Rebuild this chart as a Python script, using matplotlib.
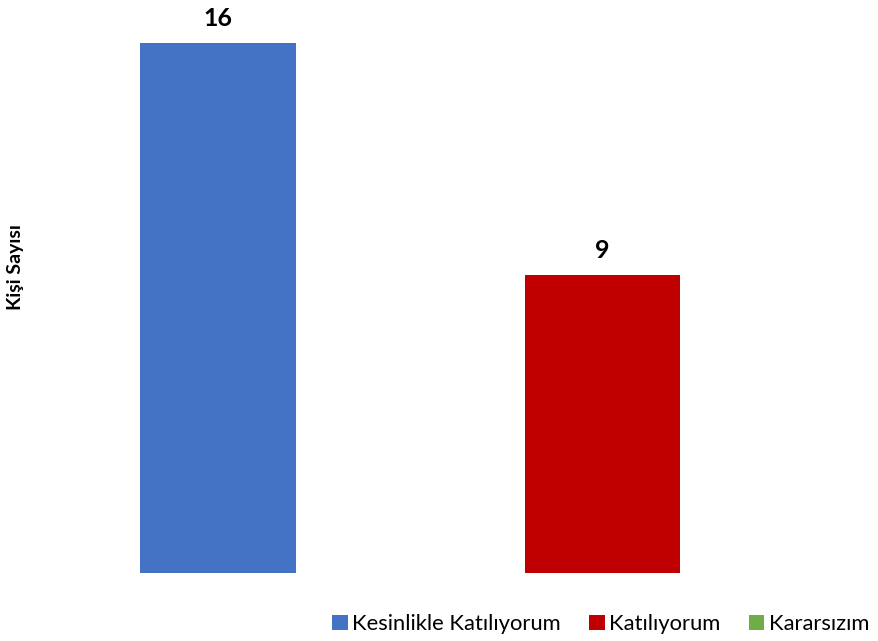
import matplotlib.pyplot as plt
from matplotlib.patches import Patch

categories = ["Kesinlikle Katılıyorum", "Katılıyorum", "Kararsızım"]
values = [16, 9, 0]
colors = ["#4472C4", "#C00000", "#70AD47"]
ylabel = "Kişi Sayısı"

plt.rcParams['font.family'] = ['Lato', 'DejaVu Sans']

W, H = 879, 641
fig = plt.figure(figsize=(W/100, H/100), dpi=100)
L = 30
ax = fig.add_axes([L/W, 68/H, (W-L)/W, 530/H])
pos = list(range(len(categories)))
bars = ax.bar(pos, values, width=0.405, color=colors)
for p, v in zip(pos, values):
    if v > 0:
        ax.annotate(str(v), (p, v), xytext=(0, 9), textcoords='offset points',
                    ha='center', va='bottom', fontsize=18, fontweight='bold')
ax.set_ylim(0, 16)
ax.set_xlim(-(218-L)/384.5, (W-218)/384.5)
for s in ax.spines.values():
    s.set_visible(False)
ax.set_xticks([])
ax.set_yticks([])
fig.text(16/W, 1-267/H, ylabel, rotation=90, ha='center', va='center',
         fontsize=14, fontweight='bold')

handles = [Patch(facecolor=c) for c in colors]
fig.legend(handles, categories, loc='center right', bbox_to_anchor=(1.0, 1-624/H),
           ncol=3, frameon=False, prop={'size': 15.8},
           handlelength=0.7, handleheight=0.7,
           handletextpad=0.2, columnspacing=1.3, borderaxespad=0.05)
fig.savefig("out.png", dpi=100)
